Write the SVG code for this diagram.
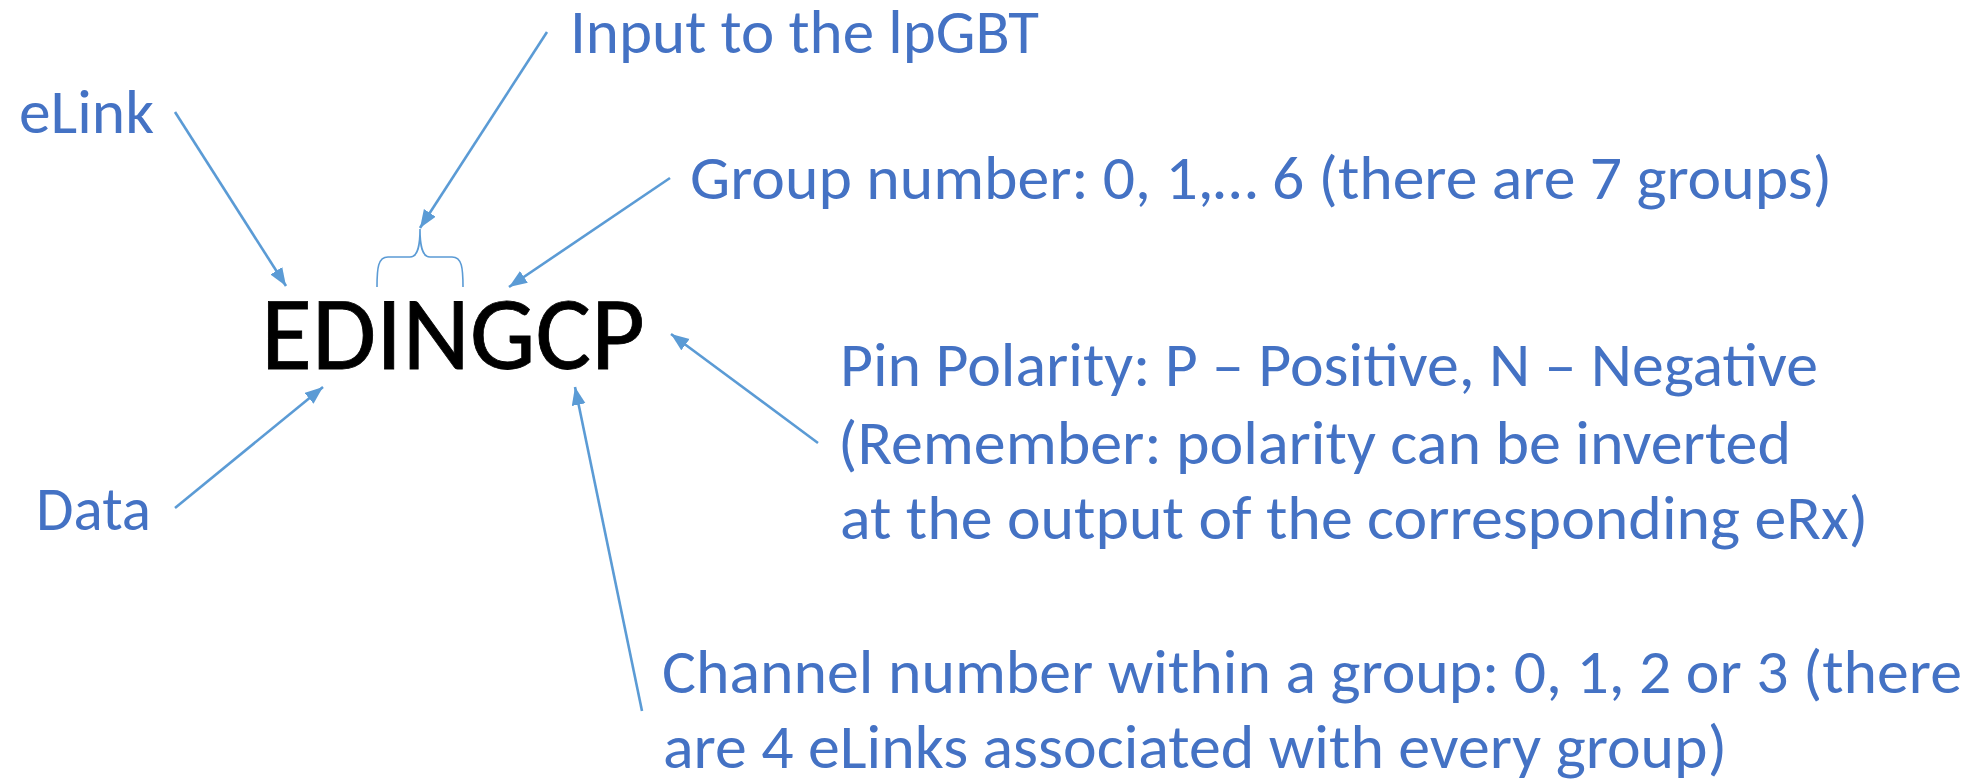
<svg xmlns="http://www.w3.org/2000/svg" width="1982" height="780" viewBox="0 0 1982 780">
  <style>
    .lbl { font-family: Carlito, "Open Sans", "Noto Sans", sans-serif; font-size: 62px; fill: #4472C4; }
    .main { font-family: Carlito, "Open Sans", "Noto Sans", sans-serif; font-size: 104px; fill: #000000; stroke: #000000; stroke-width: 0.8; }
    .arrow { fill: none; stroke: #5B9BD5; stroke-width: 2.6; marker-end: url(#head); }
    .brace { fill: none; stroke: #5B9BD5; stroke-width: 1.6; }
  </style>
  <defs>
    <marker id="head" markerUnits="userSpaceOnUse" markerWidth="20" markerHeight="16" refX="18" refY="7" orient="auto">
      <path d="M0,0 L18,7 L0,14 z" fill="#5B9BD5"/>
    </marker>
  </defs>
  <rect width="1982" height="780" fill="#ffffff"/>

  <g id="code">
    <text class="main" x="261" y="369" textLength="384" lengthAdjust="spacingAndGlyphs">EDINGCP</text>
  </g>
  <g id="brace">
    <path class="brace" d="M377,287 C377,268 378,257 388,257 L410,257 C418,257 420,246 420,229 C420,246 422,257 430,257 L452,257 C462,257 463,268 463,287"/>
  </g>

  <g id="elink">
    <text class="lbl" x="19" y="133" textLength="135" lengthAdjust="spacingAndGlyphs">eLink</text>
  </g>
  <g id="input">
    <text class="lbl" x="570" y="53" textLength="469" lengthAdjust="spacingAndGlyphs">Input to the lpGBT</text>
  </g>
  <g id="group">
    <text class="lbl" x="690" y="199" textLength="1142" lengthAdjust="spacingAndGlyphs">Group number: 0, 1,… 6 (there are 7 groups)</text>
  </g>
  <g id="data">
    <text class="lbl" x="36" y="530" textLength="115" lengthAdjust="spacingAndGlyphs">Data</text>
  </g>
  <g id="polarity">
    <text class="lbl" x="840" y="386" textLength="978" lengthAdjust="spacingAndGlyphs">Pin Polarity: P – Positive, N – Negative</text>
    <text class="lbl" x="838" y="464" textLength="953" lengthAdjust="spacingAndGlyphs">(Remember: polarity can be inverted</text>
    <text class="lbl" x="840" y="539" textLength="1028" lengthAdjust="spacingAndGlyphs">at the output of the corresponding eRx)</text>
  </g>
  <g id="channel">
    <text class="lbl" x="662" y="693" textLength="1300" lengthAdjust="spacingAndGlyphs">Channel number within a group: 0, 1, 2 or 3 (there</text>
    <text class="lbl" x="663" y="768" textLength="1064" lengthAdjust="spacingAndGlyphs">are 4 eLinks associated with every group)</text>
  </g>

  <g id="connectors">
    <path class="arrow" d="M175,112 L286,286"/>
    <path class="arrow" d="M547,32 L420,228"/>
    <path class="arrow" d="M670,178 L509,287"/>
    <path class="arrow" d="M175,508 L323,387"/>
    <path class="arrow" d="M818,443 L671,334"/>
    <path class="arrow" d="M642,711 L575,387"/>
  </g>
</svg>
